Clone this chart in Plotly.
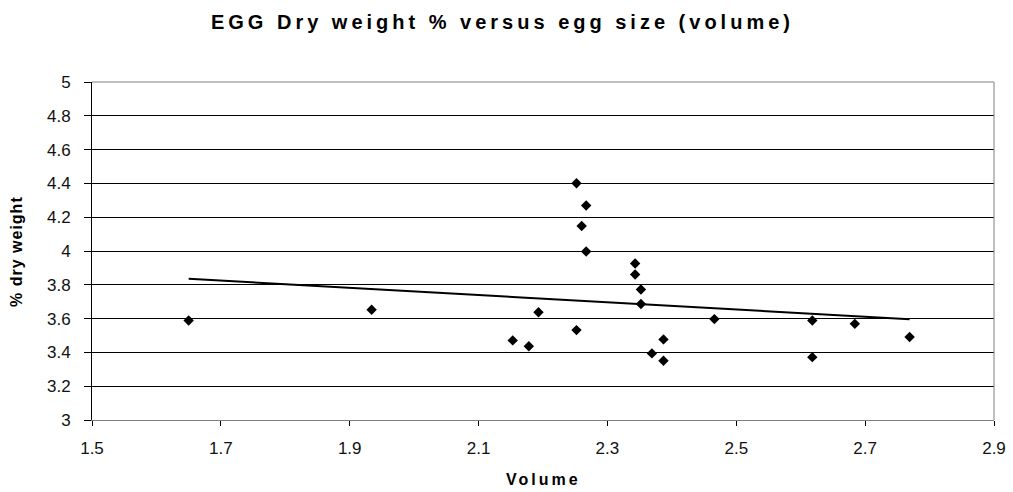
import numpy as np
import plotly.graph_objects as go

volume = [1.650, 1.934, 2.252, 2.267, 2.260, 2.267, 2.343, 2.343, 2.352, 2.352, 2.193,
          2.252, 2.153, 2.178, 2.387, 2.369, 2.387, 2.466, 2.618, 2.684, 2.769, 2.618]
dry_weight = [3.589, 3.652, 4.401, 4.269, 4.148, 3.997, 3.926, 3.861, 3.772, 3.686, 3.638,
              3.532, 3.471, 3.436, 3.477, 3.394, 3.351, 3.597, 3.589, 3.569, 3.491, 3.372]

x_ticks = [1.5, 1.7, 1.9, 2.1, 2.3, 2.5, 2.7, 2.9]
y_ticks = [3, 3.2, 3.4, 3.6, 3.8, 4, 4.2, 4.4, 4.6, 4.8, 5]

slope, intercept = np.polyfit(volume, dry_weight, 1)
trend_x = [min(volume), max(volume)]
trend_y = [slope * v + intercept for v in trend_x]

fig = go.Figure()
fig.add_trace(go.Scatter(x=trend_x, y=trend_y, mode="lines",
                         line=dict(color="black", width=2), hoverinfo="skip"))
fig.add_trace(go.Scatter(x=volume, y=dry_weight, mode="markers",
                         marker=dict(symbol="diamond", size=8, color="black")))

font = "Liberation Sans, Arial, sans-serif"
fig.update_layout(
    width=1013, height=492,
    margin=dict(l=92, r=19, t=82, b=72),
    paper_bgcolor="white", plot_bgcolor="white",
    showlegend=False,
    font=dict(family=font, color="black", size=17),
    title=dict(text='<span style="letter-spacing:4px"><b>EGG Dry weight % versus egg size (volume)</b></span>',
               x=0.496, xanchor="center", xref="container", y=0.955, yanchor="middle",
               font=dict(size=20, family=font, color="black")),
    xaxis=dict(range=[1.5, 2.9], tickvals=x_ticks, ticktext=[str(v) for v in x_ticks],
               showgrid=False, zeroline=False, showline=True, linecolor="#808080",
               mirror=False, ticks="outside", ticklen=5, tickcolor="black",
               ticklabelstandoff=8, automargin=False,
               tickfont=dict(size=17, color="#111")),
    yaxis=dict(range=[3, 5], tickvals=y_ticks, ticktext=[f"{v:g}" for v in y_ticks],
               showgrid=True, gridcolor="black", gridwidth=1, zeroline=False,
               showline=True, linecolor="black", ticks="outside", ticklen=7,
               ticklabelstandoff=10, automargin=False,
               tickcolor="black", tickfont=dict(size=17, color="#111")),
    annotations=[
        dict(text='<span style="letter-spacing:3px"><b>Volume</b></span>',
             xref="paper", yref="paper", x=0.5, y=-0.1775, xanchor="center", yanchor="middle",
             showarrow=False, font=dict(size=16, family=font, color="black")),
        dict(text='<span style="letter-spacing:1px"><b>% dry weight</b></span>',
             xref="paper", yref="paper", x=-0.0843, y=0.5, xanchor="center", yanchor="middle",
             textangle=-90, showarrow=False, font=dict(size=16, family=font, color="black")),
    ],
)
fig.add_shape(type="line", xref="paper", yref="paper", x0=1, x1=1, y0=0, y1=1,
              line=dict(color="#808080", width=1))
fig.add_shape(type="line", xref="paper", yref="paper", x0=0, x1=1, y0=1, y1=1,
              line=dict(color="#808080", width=1))
fig.write_html("out.html")
